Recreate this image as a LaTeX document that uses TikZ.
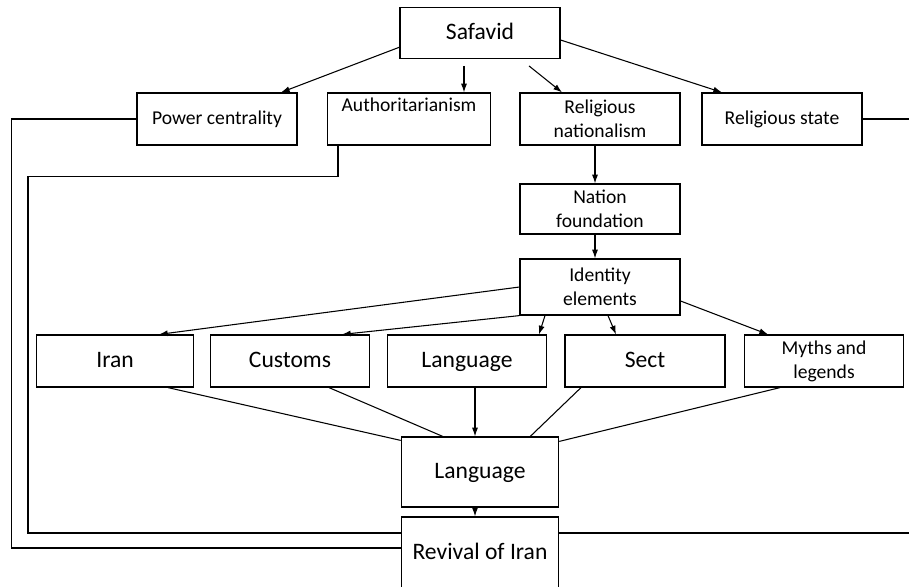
\documentclass[tikz,border=0pt]{standalone}
\usepackage{fontspec}
\setmainfont{Carlito}
\usetikzlibrary{arrows.meta,calc}
\begin{document}
\begin{tikzpicture}[x=0.75pt,y=-0.75pt,>={Latex[length=6.5pt,width=4.5pt]},
box/.style={draw,line width=0.9pt,minimum width=120pt,minimum height=39pt,align=center,inner sep=1pt,font=\fontsize{14.7}{18}\selectfont},
bigbox/.style={box,text height=12.5pt,text depth=3.5pt,font=\fontsize{17.7}{21}\selectfont},
arr/.style={->,line width=0.8pt},
lin/.style={line width=0.8pt}]
\useasboundingbox (0,0) rectangle (909,586);
\node[bigbox,minimum height=38pt] (safavid) at (480,33) {Safavid};
\node[box] (power) at (217,119) {Power centrality};
\node[box,minimum width=122pt] (auth) at (409,119) {Authoritarianism\\[3pt]\mbox{}};
\node[box] (relnat) at (600,119) {Religious\\nationalism};
\node[box] (relstate) at (782,119) {Religious state};
\node[box,minimum height=37.5pt] (nation) at (600,209) {Nation\\foundation};
\node[box,minimum height=42pt] (ident) at (600,287) {Identity\\elements};
\node[bigbox,minimum width=118pt] (iran) at (115,361) {Iran};
\node[bigbox,minimum width=119pt] (customs) at (290,361) {Customs};
\node[bigbox,minimum width=119pt] (lang) at (467,361) {Language};
\node[bigbox] (sect) at (645,361) {Sect};
\node[box,minimum width=119pt] (myths) at (824,361) {Myths and\\legends};
\node[bigbox,minimum width=118pt,minimum height=52.5pt] (lang2) at (480,472) {Language};
\node[bigbox,minimum width=118pt,minimum height=54pt] (revival) at (480,553) {Revival of Iran};
\coordinate (ll) at ($(lang2.north)+(-5,0)$);
\draw[arr] (safavid.190) -- ($(power.north)+(64,0)$);
\draw[arr] ($(safavid.south)+(-16,7)$) -- ($(auth.north)+(55,0)$);
\draw[arr] ($(safavid.south)+(49,7)$) -- ($(relnat.north)+(-38,0)$);
\draw[arr] ($(safavid.east)+(0,7)$) -- ($(relstate.north)+(-60,0)$);
\draw[arr] ($(relnat.south)+(-5,0)$) -- ($(nation.north)+(-5,0)$);
\draw[arr] ($(nation.south)+(-5,0)$) -- ($(ident.north)+(-5,0)$);
\draw[arr] (ident.west) -- ($(iran.north)+(44,0)$);
\draw[arr] (ident.south west) -- ($(customs.north)+(52,0)$);
\draw[arr] ($(ident.south)+(-55,0)$) -- ($(lang.north)+(72,0)$);
\draw[arr] ($(ident.south)+(8,0)$) -- ($(sect.north)+(-29,0)$);
\draw[arr] ($(ident.east)+(0,14)$) -- ($(myths.north)+(-56,0)$);
\draw[lin] ($(iran.south)+(53,0)$) -- ($(lang2.north west)+(0,4)$);
\draw[lin] ($(customs.south)+(39,0)$) -- ($(lang2.north west)+(42,0)$);
\draw[arr] (ll |- lang.south) -- (ll);
\draw[lin] ($(sect.south)+(-64,0)$) -- ($(lang2.north east)+(-29,0)$);
\draw[lin] ($(myths.south)+(-44,0)$) -- ($(lang2.north east)+(0,5)$);
\draw[arr] (ll |- lang2.south) -- (ll |- revival.north);
\draw[lin] (power.west) -- ++(-125,0) |- ($(revival.west)+(0,-5)$);
\draw[lin] ($(auth.south)+(-71,0)$) -- ++(0,31) -- ++(-310,0) |- ($(revival.west)+(0,-20)$);
\draw[lin] (relstate.east) -- ++(53,0) |- ($(revival.east)+(0,-20)$);
\end{tikzpicture}
\end{document}
